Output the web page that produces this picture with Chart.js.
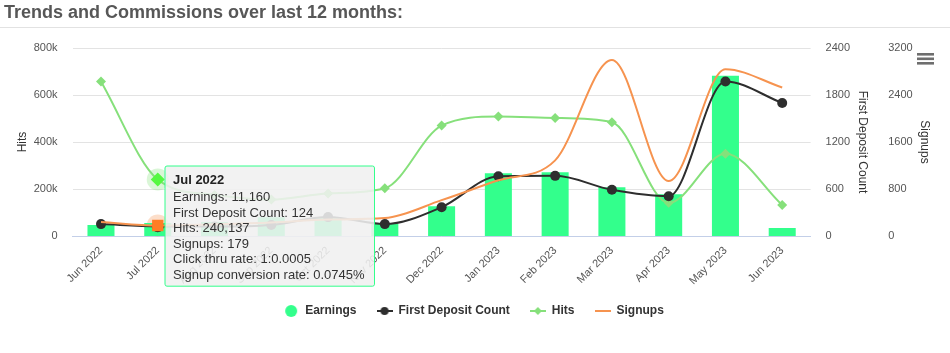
<!DOCTYPE html>
<html>
<head>
  <title>Trends and Commissions over last 12 months</title>
  <script src="https://cdn.jsdelivr.net/npm/chart.js"></script>
  <style>
    body { margin: 0; background: #fff; }
    #wrap { width: 950px; height: 353px; }
  </style>
</head>
<body>
  <div id="wrap"><canvas id="trendsChart" width="950" height="353"></canvas></div>
  <script>
    const chartTitle = 'Trends and Commissions over last 12 months:';
    const months = ['Jun 2022', 'Jul 2022', 'Aug 2022', 'Sep 2022', 'Oct 2022', 'Nov 2022', 'Dec 2022',
      'Jan 2023', 'Feb 2023', 'Mar 2023', 'Apr 2023', 'May 2023', 'Jun 2023'];
    const earnings = [9300, 11160, 12000, 16000, 16000, 10200, 25400, 53300, 54200, 41500, 35600, 136300, 6800];
    const firstDeposits = [152, 124, 120, 140, 241, 152, 368, 762, 768, 590, 508, 1972, 1698];
    const hits = [657000, 240137, 175000, 155000, 181000, 203000, 470000, 508000, 502000, 484000, 141000, 350000, 132000];
    const signups = [237, 179, 200, 230, 280, 305, 610, 948, 1287, 2997, 936, 2839, 2528];
    const hitsTicks = [0, 200000, 400000, 600000, 800000];
    const depositTicks = [0, 600, 1200, 1800, 2400];
    const signupTicks = [0, 800, 1600, 2400, 3200];
    const hoverIndex = 1; // the tooltip in the picture sits on Jul 2022

    const FONT = '"Liberation Sans", Arial, Helvetica, sans-serif';
    const GREEN = '#33ff8c';
    const DARK = '#2e2e2e';
    const LIGHT_GREEN = '#86e07b';
    const ORANGE = '#f6934f';

    const fmt = v => v.toLocaleString('en-US');

    // legend markers: line + point, like the original
    function legendIcon(color, kind) {
      const c = document.createElement('canvas');
      c.width = 16; c.height = 14;
      const g = c.getContext('2d');
      g.fillStyle = color; g.strokeStyle = color;
      if (kind === 'dot') {
        g.beginPath(); g.arc(8, 7, 6, 0, Math.PI * 2); g.fill();
        return c;
      }
      g.lineWidth = 2;
      g.beginPath(); g.moveTo(0, 7); g.lineTo(16, 7); g.stroke();
      if (kind === 'circle') {
        g.beginPath(); g.arc(8, 7, 4, 0, Math.PI * 2); g.fill();
      } else if (kind === 'diamond') {
        g.beginPath(); g.moveTo(8, 3); g.lineTo(12, 7); g.lineTo(8, 11); g.lineTo(4, 7); g.closePath(); g.fill();
      }
      return c;
    }
    const legendIcons = [legendIcon(GREEN, 'dot'), legendIcon(DARK, 'circle'),
      legendIcon(LIGHT_GREEN, 'diamond'), legendIcon(ORANGE, 'line')];

    const header = {
      id: 'header',
      beforeDraw(chart) {
        const c = chart.ctx;
        c.save();
        c.fillStyle = '#575757';
        c.font = 'bold 18px ' + FONT;
        c.textBaseline = 'middle';
        c.fillText(chartTitle, 4, 13);
        c.fillStyle = '#e2e2e2';
        c.fillRect(0, 27, 950, 1);
        c.fillStyle = '#6e6e6e';
        [53, 57.5, 62].forEach(y => c.fillRect(917, y, 17, 2.6));
        c.restore();
      }
    };

    // soft halo behind the hovered markers
    const halo = {
      id: 'halo',
      beforeDatasetsDraw(chart) {
        const c = chart.ctx;
        c.save();
        chart.getActiveElements().forEach(a => {
          if (a.datasetIndex !== 2 && a.datasetIndex !== 3) return;
          c.fillStyle = a.datasetIndex === 2 ? 'rgba(134,224,123,0.3)' : 'rgba(246,147,79,0.3)';
          c.beginPath();
          c.arc(a.element.x, a.element.y, 11, 0, Math.PI * 2);
          c.fill();
        });
        c.restore();
      }
    };

    Chart.Tooltip.positioners.fixedBox = function () {
      return { x: 167, y: 166, xAlign: 'left', yAlign: 'top' };
    };

    const tickFont = { family: FONT, size: 11 };
    const titleFont = { family: FONT, size: 12 };
    const plain = v => String(v);

    const lineBase = {
      type: 'line',
      borderWidth: 2,
      cubicInterpolationMode: 'monotone',
      pointBorderWidth: 0,
      pointHoverBorderWidth: 0
    };

    const chart = new Chart(document.getElementById('trendsChart'), {
      type: 'bar',
      data: {
        labels: months,
        datasets: [{
          label: 'Earnings',
          data: earnings,
          yAxisID: 'yEarn',
          backgroundColor: GREEN,
          hoverBackgroundColor: GREEN,
          barPercentage: 0.476,
          categoryPercentage: 1,
          order: 10
        }, {
          ...lineBase,
          label: 'First Deposit Count',
          data: firstDeposits,
          yAxisID: 'yDeposit',
          borderColor: DARK,
          backgroundColor: DARK,
          pointStyle: 'circle',
          pointRadius: 5,
          pointHoverRadius: 6,
          order: 2
        }, {
          ...lineBase,
          label: 'Hits',
          data: hits,
          yAxisID: 'yHits',
          borderColor: LIGHT_GREEN,
          backgroundColor: LIGHT_GREEN,
          pointStyle: 'rectRot',
          pointRadius: 5,
          pointHoverRadius: 7,
          order: 3
        }, {
          ...lineBase,
          label: 'Signups',
          data: signups,
          yAxisID: 'ySignups',
          borderColor: ORANGE,
          backgroundColor: ORANGE,
          pointStyle: 'rect',
          pointRadius: 0,
          pointHoverRadius: 8,
          order: 1
        }]
      },
      options: {
        responsive: false,
        devicePixelRatio: 1,
        animation: false,
        events: [],
        layout: { padding: { top: 48, left: 11, right: 14, bottom: 26 } },
        interaction: { mode: 'index', intersect: false },
        scales: {
          x: {
            offset: true,
            grid: { display: false, drawTicks: false },
            border: { color: '#c3cfe8' },
            ticks: { font: tickFont, color: '#555', maxRotation: 45, minRotation: 45, padding: 8 },
            afterFit: s => { s.height = 49; }
          },
          yHits: {
            position: 'left',
            min: 0, max: 800000,
            afterBuildTicks: s => { s.ticks = hitsTicks.map(v => ({ value: v })); },
            ticks: { font: tickFont, color: '#555', padding: 15,
              callback: v => v === 0 ? '0' : (v / 1000) + 'k' },
            grid: { color: '#e3e3e3', drawTicks: false },
            border: { display: false },
            title: { display: true, text: 'Hits', font: titleFont, color: '#333' },
            afterFit: s => { s.width = 61.6; }
          },
          yDeposit: {
            position: 'right',
            min: 0, max: 2400,
            afterBuildTicks: s => { s.ticks = depositTicks.map(v => ({ value: v })); },
            ticks: { font: tickFont, color: '#555', padding: 15, callback: plain },
            grid: { display: false, drawTicks: false },
            border: { display: false },
            title: { display: true, text: 'First Deposit Count', font: titleFont, color: '#333' },
            afterFit: s => { s.width = 62.6; }
          },
          ySignups: {
            position: 'right',
            min: 0, max: 3200,
            afterBuildTicks: s => { s.ticks = signupTicks.map(v => ({ value: v })); },
            ticks: { font: tickFont, color: '#555', padding: 15, callback: plain },
            grid: { display: false, drawTicks: false },
            border: { display: false },
            title: { display: true, text: 'Signups', font: titleFont, color: '#333' },
            afterFit: s => { s.width = 62.8; }
          },
          yEarn: { display: false, min: 0, max: 160000 }
        },
        plugins: {
          legend: {
            position: 'bottom',
            labels: {
              usePointStyle: true,
              pointStyleWidth: 16,
              boxHeight: 12,
              padding: 20,
              color: '#333',
              font: { family: FONT, size: 12, weight: 'bold' },
              generateLabels: chart => chart.data.datasets.map((d, i) => ({
                text: d.label,
                pointStyle: legendIcons[i],
                fillStyle: d.backgroundColor,
                strokeStyle: d.backgroundColor,
                lineWidth: 0,
                hidden: false,
                datasetIndex: i,
                fontColor: '#333'
              }))
            }
          },
          tooltip: {
            position: 'fixedBox',
            xAlign: 'left',
            yAlign: 'top',
            caretSize: 0,
            caretPadding: 0,
            cornerRadius: 2,
            backgroundColor: 'rgba(240,240,240,0.88)',
            borderColor: GREEN,
            borderWidth: 1,
            titleColor: '#222',
            bodyColor: '#333',
            titleFont: { family: FONT, size: 13, weight: 'bold', lineHeight: 1.2 },
            bodyFont: { family: FONT, size: 13, lineHeight: 1.2 },
            titleMarginBottom: 1,
            bodySpacing: 0,
            padding: { top: 7, bottom: 3, left: 8, right: 10 },
            displayColors: false,
            filter: item => item.datasetIndex === 0,
            callbacks: {
              title: items => months[items[0].dataIndex],
              label: ctx => {
                const i = ctx.dataIndex;
                return [
                  'Earnings: ' + fmt(earnings[i]),
                  'First Deposit Count: ' + fmt(firstDeposits[i]),
                  'Hits: ' + fmt(hits[i]),
                  'Signups: ' + fmt(signups[i]),
                  'Click thru rate: 1:' + (firstDeposits[i] / hits[i]).toFixed(4),
                  'Signup conversion rate: ' + (signups[i] / hits[i] * 100).toFixed(4) + '%'
                ];
              }
            }
          }
        }
      },
      plugins: [header, halo]
    });

    const active = [0, 1, 2, 3].map(d => ({ datasetIndex: d, index: hoverIndex }));
    chart.setActiveElements(active);
    chart.tooltip.setActiveElements(active, { x: 167, y: 166 });
    chart.update();
  </script>
</body>
</html>
